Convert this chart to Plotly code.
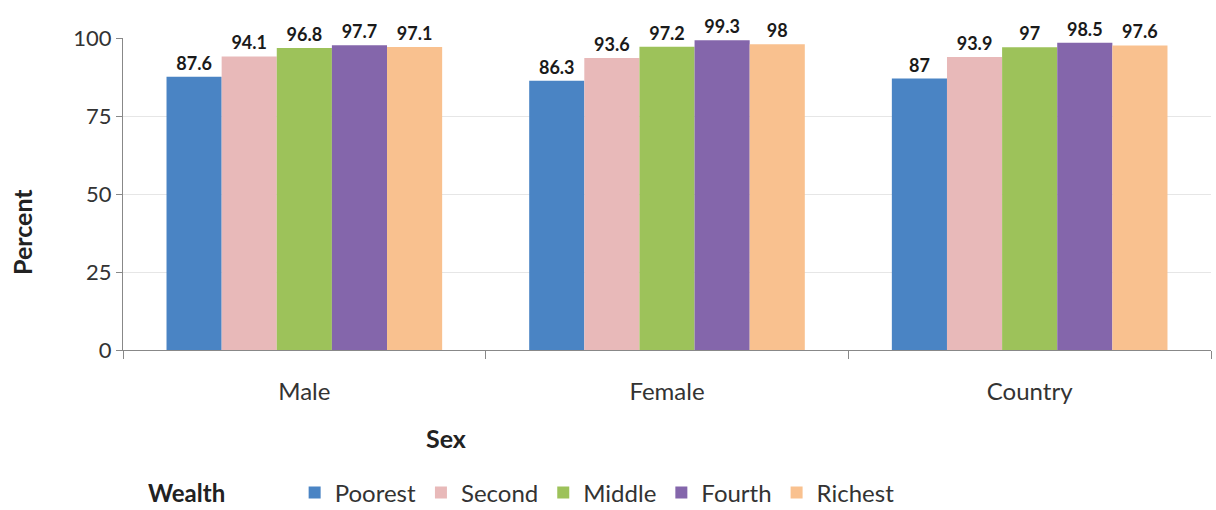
import plotly.graph_objects as go

# Categories and series values
sex_groups = ["Male", "Female", "Country"]
wealth_levels = ["Poorest", "Second", "Middle", "Fourth", "Richest"]
poorest = [87.6, 86.3, 87.0]
second = [94.1, 93.6, 93.9]
middle = [96.8, 97.2, 97.0]
fourth = [97.7, 99.3, 98.5]
richest = [97.1, 98.0, 97.6]
y_ticks = [0, 25, 50, 75, 100]

series = [poorest, second, middle, fourth, richest]
colors = ["#4a84c4", "#e8b9b9", "#9dc25a", "#8466ab", "#f9c18f"]

font_family = "Lato, 'Open Sans', sans-serif"

fig = go.Figure()
for name, vals, col in zip(wealth_levels, series, colors):
    fig.add_trace(go.Bar(
        name=name,
        x=sex_groups,
        y=vals,
        marker=dict(color=col, line=dict(width=0)),
        text=[f"{v:g}" for v in vals],
        textposition="outside",
        cliponaxis=False,
        textfont=dict(family=font_family, size=18, color="#1a1a1a", weight="bold"),
    ))

fig.update_layout(
    width=1216,
    height=510,
    margin=dict(l=123, r=5, t=38, b=160, autoexpand=False),
    paper_bgcolor="white",
    plot_bgcolor="white",
    barmode="group",
    bargap=0.24,
    bargroupgap=0,
    font=dict(family=font_family, size=22, color="#333333"),
    showlegend=True,
    legend=dict(
        orientation="h",
        x=(146 - 123) / 1088, xanchor="left",
        y=(350 - 493) / 312, yanchor="middle",
        title=dict(text="<b>Wealth</b>\u00a0\u00a0\u00a0\u00a0\u00a0\u00a0\u00a0\u00a0\u00a0\u00a0",
                   font=dict(size=24, color="#222222")),
        font=dict(size=24, color="#333333"),
        itemwidth=30,
        tracegroupgap=0,
    ),
    xaxis=dict(
        showline=True, linecolor="#888888", linewidth=1,
        ticks="outside", tickson="boundaries", ticklen=8, tickcolor="#888888",
        ticklabelstandoff=20,
        tickfont=dict(size=24, color="#333333"),
    ),
    yaxis=dict(
        range=[0, 100],
        tickvals=y_ticks,
        showline=True, linecolor="#888888", linewidth=1,
        ticks="outside", ticklen=6, tickcolor="#888888",
        showgrid=True, gridcolor="#e6e6e6", gridwidth=1,
        tickfont=dict(size=22, color="#333333"),
        zeroline=False,
    ),
    annotations=[
        dict(
            text="<b>Sex</b>", xref="paper", yref="paper",
            x=(446 - 123) / 1088, y=(350 - 438) / 312,
            xanchor="center", yanchor="middle",
            showarrow=False, font=dict(size=25, color="#222222"),
        ),
        dict(
            text="<b>Percent</b>", xref="paper", yref="paper",
            x=(22 - 123) / 1088, y=(350 - 232) / 312,
            xanchor="center", yanchor="middle", textangle=-90,
            showarrow=False, font=dict(size=25, color="#222222"),
        ),
    ],
)

fig.write_html("out.html")
